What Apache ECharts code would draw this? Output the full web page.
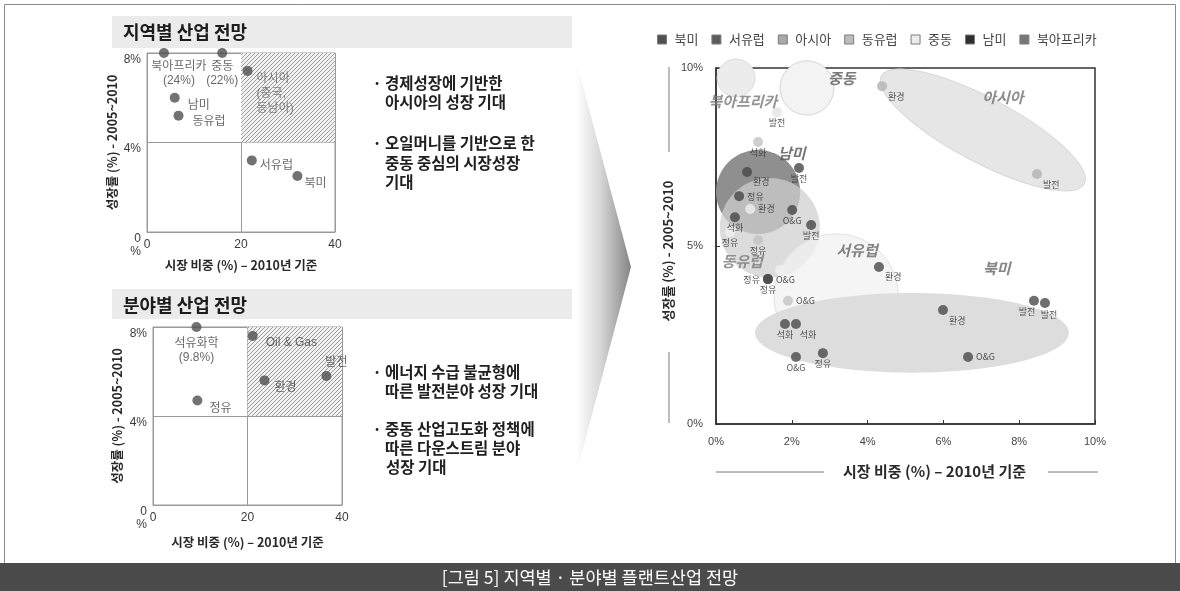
<!DOCTYPE html>
<html>
<head>
<meta charset="utf-8">
<script src="https://cdn.jsdelivr.net/npm/echarts@6/dist/echarts.min.js"></script>
<style>
  html, body { margin: 0; padding: 0; background: #ffffff; }
  #chart { width: 1180px; height: 591px; }
</style>
</head>
<body>
<div id="chart"></div>
<script>
// ---------------- data ----------------
// 지역별 산업 전망 : 시장 비중 (%) / 성장률 (%)
const regionNames  = ['북아프리카', '중동', '아시아', '남미', '동유럽', '서유럽', '북미'];
const regionNotes  = ['', '', '(중국,\n동남아)', '', '', '', ''];
const regionShare  = [3.6, 16.0, 21.4, 5.9, 6.7, 22.3, 32.0];
const regionGrowth = [24, 22, 7.2, 6.0, 5.2, 3.2, 2.5];

// 분야별 산업 전망
const sectorNames  = ['석유화학', 'Oil & Gas', '발전', '환경', '정유'];
const sectorShare  = [9.2, 21.1, 36.7, 23.6, 9.4];
const sectorGrowth = [9.8, 7.6, 5.8, 5.6, 4.7];

// axis ticks
const smallShareTicks  = [0, 20, 40];
const smallGrowthTicks = [0, 4, 8];
const shareTicks  = [0, 2, 4, 6, 8, 10];
const growthTicks = [0, 5, 10];

// 지역 × 분야 상세 : regional bubbles (centre and half-spread, %)
const legendOrder   = ['북미', '서유럽', '아시아', '동유럽', '중동', '남미', '북아프리카'];
const bubbleRegions = ['북아프리카', '중동', '아시아', '남미', '동유럽', '서유럽', '북미'];
const bubbleShare        = [0.53, 2.40, 7.04, 1.11, 1.42, 3.17, 5.17];
const bubbleGrowth       = [9.72, 9.44, 8.26, 6.52, 5.51, 3.60, 2.56];
const bubbleShareSpread  = [0.50, 0.71, 3.03, 1.11, 1.32, 1.64, 4.14];
const bubbleGrowthSpread = [0.53, 0.76, 0.90, 1.18, 1.40, 1.74, 1.12];
const bubbleTilt         = [0, 0, -28, 0, 0, 0, 0];

// sector points inside the regions
const dotShare  = [4.38, 8.47, 1.61, 1.11, 0.82, 2.19, 0.61, 0.90, 0.50, 2.01, 2.51, 0.37, 1.11, 1.69, 1.37, 1.37, 1.37, 4.30, 1.90, 1.82, 2.11, 2.11, 2.82, 5.99, 8.39, 8.68, 6.65];
const dotGrowth = [9.49, 7.02, 8.76, 7.92, 7.08, 7.19, 6.40, 6.04, 5.81, 6.01, 5.59, 5.39, 5.17, 4.33, 4.07, 4.07, 4.07, 4.41, 3.46, 2.81, 2.81, 1.88, 1.99, 3.20, 3.46, 3.40, 1.88];
const dotSector = ['환경', '발전', '발전', '석화', '환경', '발전', '정유', '환경', '석화', 'O&G', '발전', '정유', '정유', '', '정유', 'O&G', '정유', '환경', 'O&G', '석화', '석화', 'O&G', '정유', '환경', '발전', '발전', 'O&G'];
const dotRegion = ['아시아', '아시아', '북아프리카', '동유럽', '남미', '남미', '남미', '중동', '남미', '남미', '남미', '중동', '동유럽', '중동', '동유럽', '서유럽', '서유럽', '서유럽', '동유럽', '서유럽', '북미', '서유럽', '북미', '북미', '북미', '북미', '북미'];

// ---------------- layout & styles ----------------
const FONT = '"Liberation Sans", "Noto Sans CJK KR", sans-serif';
const KFONT = '"Noto Sans CJK KR", "Liberation Sans", sans-serif';

const dotPlace = ['rb', 'rb', 'b', 'b', 'rb', 'b', 'r', 'r', 'b', 'b', 'b', 'b', 'b', '', 'l', 'r', 'b', 'rb', 'r', 'b', 'bR', 'b', 'b', 'rb', 'bl', 'br', 'r'];
const PLACE = {
  b:  { position: 'bottom', distance: 1 },
  bl: { position: 'bottom', distance: 1, offset: [-7, 0] },
  br: { position: 'bottom', distance: 2, offset: [4, 0] },
  bR: { position: 'bottom', distance: 1, offset: [12, 0] },
  r:  { position: 'right', distance: 3 },
  l:  { position: 'left', distance: 3 },
  rb: { position: 'right', distance: 1, offset: [0, 10] }
};

const regionLabelPlace = [
  { position: 'bottom', distance: 2, offset: [15, 0] },
  { position: 'bottom', distance: 2 },
  { position: 'right', distance: 4, offset: [0, 23], lineHeight: 15, color: '#666' },
  { position: 'right', distance: 8, offset: [0, 8] },
  { position: 'right', distance: 9, offset: [0, 6] },
  { position: 'right', distance: 3, offset: [0, 5] },
  { position: 'right', distance: 2, offset: [0, 8] }
];
const sectorLabelPlace = [
  { position: 'bottom', distance: 5 },
  { position: 'right', distance: 8, offset: [0, 7] },
  { position: 'top', distance: 1, offset: [10, 0] },
  { position: 'right', distance: 5, offset: [0, 7] },
  { position: 'right', distance: 7, offset: [0, 8] }
];

const LEGEND_COLOR = {
  '북미': '#505050', '서유럽': '#5c5c5c', '아시아': '#a9a9a9', '동유럽': '#bdbdbd',
  '중동': '#ececec', '남미': '#2f2f2f', '북아프리카': '#787878'
};
const BUBBLE_STYLE = {
  '북아프리카': { fill: '#ececec', stroke: '#dcdcdc', lineWidth: 1 },
  '중동':       { fill: '#f3f3f3', stroke: '#d6d6d6', lineWidth: 1 },
  '아시아':     { fill: '#e6e6e6', stroke: '#d8d8d8', lineWidth: 1 },
  '남미':       { fill: '#8f8f8f' },
  '동유럽':     { fill: 'rgba(206,206,206,0.72)' },
  '서유럽':     { fill: 'rgba(241,241,241,0.75)', stroke: '#e2e2e2', lineWidth: 1 },
  '북미':       { fill: '#dddddd' }
};
const DOT_COLOR = {
  '남미': '#464646', '서유럽': '#4a4a4a', '북미': '#4a4a4a', '아시아': '#b3b3b3',
  '동유럽': '#c3c3c3', '중동': '#f0f0f0', '북아프리카': '#e3e3e3'
};
// where each region's name is written (share %, growth %)
const TITLE_AT = {
  '북아프리카': [0.71, 9.07], '중동': [3.32, 9.72], '아시아': [7.57, 9.18], '남미': [2.00, 7.61],
  '동유럽': [0.69, 4.58], '서유럽': [3.72, 4.89], '북미': [7.41, 4.38]
};
const TITLE_COLOR = {
  '북아프리카': '#7b7b7b', '중동': '#585858', '아시아': '#707070', '남미': '#555555',
  '동유럽': '#7a7a7a', '서유럽': '#666666', '북미': '#666666'
};

// diagonal hatching for the favourable quadrant
function hatchCanvas() {
  const c = document.createElement('canvas');
  c.width = 4; c.height = 4;
  const g = c.getContext('2d');
  g.fillStyle = '#f1f1f1';
  g.fillRect(0, 0, 4, 4);
  g.strokeStyle = '#9c9c9c';
  g.lineWidth = 1;
  g.beginPath();
  g.moveTo(0, 4); g.lineTo(4, 0);
  g.moveTo(-1, 1); g.lineTo(1, -1);
  g.moveTo(3, 5); g.lineTo(5, 3);
  g.stroke();
  return c;
}
const HATCH = { image: hatchCanvas(), repeat: 'repeat' };

const axisFrom = t => ({ min: t[0], max: t[t.length - 1], interval: t[1] - t[0] });

function smallX(gridIndex, nameGap) {
  return Object.assign({
    gridIndex, type: 'value',
    axisLine: { show: true, lineStyle: { color: '#9a9a9a' } },
    axisTick: { show: false },
    splitLine: { show: true, lineStyle: { color: '#9a9a9a', width: 1 } },
    axisLabel: { color: '#3a3a3a', fontSize: 12, fontFamily: FONT, margin: 7 },
    name: '시장 비중 (%) – 2010년 기준', nameLocation: 'middle', nameGap,
    nameTextStyle: { color: '#2a2a2a', fontSize: 12.5, fontWeight: 'bold', fontFamily: KFONT }
  }, axisFrom(smallShareTicks));
}
function smallY(gridIndex, nameGap) {
  return Object.assign({
    gridIndex, type: 'value',
    axisLine: { show: true, lineStyle: { color: '#9a9a9a' } },
    axisTick: { show: false },
    splitLine: { show: true, lineStyle: { color: '#9a9a9a', width: 1 } },
    axisLabel: {
      color: '#3a3a3a', fontSize: 12, fontFamily: FONT, margin: 6,
      verticalAlign: 'top', lineHeight: 13,
      formatter: v => (v === 0 ? '0\n%' : v + '%')
    },
    name: '성장률 (%) - 2005~2010', nameLocation: 'middle', nameRotate: 90, nameGap,
    nameTextStyle: { color: '#2a2a2a', fontSize: 12.5, fontWeight: 'bold', fontFamily: KFONT }
  }, axisFrom(smallGrowthTicks));
}

function smallDots(gridIndex, names, share, growth, notes, places) {
  const yMax = smallGrowthTicks[smallGrowthTicks.length - 1];
  return {
    type: 'scatter', name: 'panel' + gridIndex,
    xAxisIndex: gridIndex, yAxisIndex: gridIndex,
    symbolSize: 10, clip: false, z: 4,
    itemStyle: { color: '#4f4f4f' },
    label: { show: true, color: '#444', fontSize: 12, fontFamily: FONT, lineHeight: 14 },
    data: names.map((n, i) => ({
      name: n,
      value: [share[i], Math.min(growth[i], yMax)],
      label: Object.assign({
        formatter: [n, growth[i] > yMax ? '(' + growth[i] + '%)' : '', notes ? notes[i] : '']
          .filter(Boolean).join('\n')
      }, places[i])
    })),
    markArea: {
      silent: true,
      itemStyle: { color: HATCH },
      data: [[
        { coord: [smallShareTicks[1], smallGrowthTicks[1]] },
        { coord: [smallShareTicks[2], smallGrowthTicks[2]] }
      ]]
    }
  };
}

// ---------------- option ----------------
const bubbleSeries = bubbleRegions.map((n, i) => ({
  type: 'custom', name: n, xAxisIndex: 2, yAxisIndex: 2, silent: true, z: 2,
  itemStyle: { color: LEGEND_COLOR[n] },
  data: [[bubbleShare[i], bubbleGrowth[i], bubbleShareSpread[i], bubbleGrowthSpread[i], bubbleTilt[i]]],
  renderItem: (params, api) => {
    const c = api.coord([api.value(0), api.value(1)]);
    const s = api.size([api.value(2), api.value(3)]);
    return {
      type: 'ellipse',
      x: c[0], y: c[1],
      rotation: api.value(4) * Math.PI / 180,
      shape: { cx: 0, cy: 0, rx: s[0], ry: s[1] },
      style: BUBBLE_STYLE[n]
    };
  }
}));

const option = {
  animation: false,
  backgroundColor: '#ffffff',
  textStyle: { fontFamily: FONT },
  grid: [
    { left: 147, top: 53, width: 188, height: 179, show: true, borderColor: '#9a9a9a', borderWidth: 1 },
    { left: 153, top: 327, width: 189, height: 178, show: true, borderColor: '#9a9a9a', borderWidth: 1 },
    { left: 716, top: 68, width: 379, height: 356, show: true, borderColor: '#333', borderWidth: 1.5 }
  ],
  legend: {
    left: 657, top: 33, padding: 0,
    icon: 'rect', itemWidth: 9, itemHeight: 9, itemGap: 13,
    textStyle: { fontSize: 13, color: '#444', fontFamily: KFONT, padding: [0, 0, 0, 3] },
    data: legendOrder.map(n => ({
      name: n,
      itemStyle: { color: LEGEND_COLOR[n], borderColor: '#7a7a7a', borderWidth: 1 }
    }))
  },
  xAxis: [
    smallX(0, 27),
    smallX(1, 31),
    Object.assign({
      gridIndex: 2, type: 'value',
      axisLine: { show: true, lineStyle: { color: '#333', width: 1.5 } },
      axisTick: { show: true, inside: true, length: 4, lineStyle: { color: '#333' } },
      splitLine: { show: false },
      axisLabel: { color: '#444', fontSize: 11, fontFamily: FONT, margin: 12, formatter: '{value}%' },
      name: '시장 비중 (%) – 2010년 기준', nameLocation: 'middle', nameGap: 40,
      nameTextStyle: { color: '#2a2a2a', fontSize: 15, fontWeight: 'bold', fontFamily: KFONT, padding: [0, 0, 0, 58] }
    }, axisFrom(shareTicks))
  ],
  yAxis: [
    smallY(0, 28),
    smallY(1, 29),
    Object.assign({
      gridIndex: 2, type: 'value',
      axisLine: { show: true, lineStyle: { color: '#333', width: 1.5 } },
      axisTick: { show: true, inside: true, length: 4, lineStyle: { color: '#333' } },
      splitLine: { show: false },
      axisLabel: { color: '#444', fontSize: 11, fontFamily: FONT, margin: 13, formatter: '{value}%' },
      name: '성장률 (%) - 2005~2010', nameLocation: 'middle', nameRotate: 90, nameGap: 41,
      nameTextStyle: { color: '#2a2a2a', fontSize: 13, fontWeight: 'bold', fontFamily: KFONT, padding: [0, 10, 0, 0] }
    }, axisFrom(growthTicks))
  ],
  series: [
    smallDots(0, regionNames, regionShare, regionGrowth, regionNotes, regionLabelPlace),
    smallDots(1, sectorNames, sectorShare, sectorGrowth, null, sectorLabelPlace),
    ...bubbleSeries,
    {
      type: 'scatter', name: 'sectorDots', xAxisIndex: 2, yAxisIndex: 2,
      symbolSize: 10, clip: false, z: 6,
      label: { formatter: '{b}', fontSize: 9, color: '#2a2a2a', fontFamily: KFONT },
      data: dotShare.map((x, i) => ({
        name: dotSector[i],
        value: [x, dotGrowth[i]],
        itemStyle: { color: DOT_COLOR[dotRegion[i]] },
        label: Object.assign({ show: dotSector[i] !== '' }, PLACE[dotPlace[i]] || {})
      }))
    },
    {
      type: 'scatter', name: 'regionTitles', xAxisIndex: 2, yAxisIndex: 2,
      symbolSize: 1, clip: false, silent: true, z: 7,
      itemStyle: { color: 'rgba(0,0,0,0)' },
      label: {
        show: true, position: 'inside', formatter: '{b}',
        fontSize: 15, fontWeight: 'bold', fontStyle: 'italic', fontFamily: KFONT
      },
      data: bubbleRegions.map(n => ({
        name: n, value: TITLE_AT[n], label: { color: TITLE_COLOR[n] }
      }))
    }
  ],
  graphic: [
    // outer frame
    { type: 'rect', silent: true, z: -10, shape: { x: 4.5, y: 4.5, width: 1171, height: 559 },
      style: { fill: 'none', stroke: '#8c8c8c', lineWidth: 1 } },
    // panel headers
    { type: 'rect', silent: true, shape: { x: 112, y: 16, width: 460, height: 32 }, style: { fill: '#ebebeb' } },
    { type: 'text', silent: true, x: 123, y: 32,
      style: { text: '지역별 산업 전망', fill: '#1c1c1c', fontSize: 18, fontWeight: 'bold', fontFamily: KFONT, verticalAlign: 'middle' } },
    { type: 'rect', silent: true, shape: { x: 112, y: 289, width: 460, height: 30 }, style: { fill: '#ebebeb' } },
    { type: 'text', silent: true, x: 123, y: 305,
      style: { text: '분야별 산업 전망', fill: '#1c1c1c', fontSize: 18, fontWeight: 'bold', fontFamily: KFONT, verticalAlign: 'middle' } },
    // commentary bullets
    ...[
      ['·', 377, 83, 'center'], ['경제성장에 기반한', 385, 83], ['아시아의 성장 기대', 385, 102],
      ['·', 377, 143, 'center'], ['오일머니를 기반으로 한', 385, 143], ['중동 중심의 시장성장', 385, 163], ['기대', 385, 182],
      ['·', 377, 372, 'center'], ['에너지 수급 불균형에', 385, 372], ['따른 발전분야 성장 기대', 385, 391],
      ['·', 377, 429, 'center'], ['중동 산업고도화 정책에', 385, 429], ['따른 다운스트림 분야', 385, 448], ['성장 기대', 386, 467]
    ].map(([t, x, y, a]) => ({
      type: 'text', silent: true, x, y,
      style: { text: t, fill: '#202020', fontSize: 15.5, fontWeight: 'bold', fontFamily: KFONT,
        align: a || 'left', verticalAlign: 'middle' }
    })),
    // transition chevron
    { type: 'polygon', silent: true, z: -5,
      shape: { points: [[576, 60], [631, 267], [576, 475]] },
      style: { fill: new echarts.graphic.LinearGradient(0, 0, 1, 0, [
        { offset: 0, color: '#ffffff' }, { offset: 0.45, color: '#d6d6d6' }, { offset: 1, color: '#858585' }
      ]) } },
    // rules flanking the axis titles of the detail chart
    { type: 'line', silent: true, shape: { x1: 669, y1: 67, x2: 669, y2: 152 }, style: { stroke: '#7a7a7a', lineWidth: 1 } },
    { type: 'line', silent: true, shape: { x1: 669, y1: 352, x2: 669, y2: 423 }, style: { stroke: '#7a7a7a', lineWidth: 1 } },
    { type: 'line', silent: true, shape: { x1: 716, y1: 472, x2: 824, y2: 472 }, style: { stroke: '#7a7a7a', lineWidth: 1 } },
    { type: 'line', silent: true, shape: { x1: 1048, y1: 472, x2: 1098, y2: 472 }, style: { stroke: '#7a7a7a', lineWidth: 1 } },
    // caption bar
    { type: 'rect', silent: true, shape: { x: 0, y: 563, width: 1180, height: 28 }, style: { fill: '#4b4b4b' } },
    { type: 'text', silent: true, x: 590, y: 577,
      style: { text: '[그림 5] 지역별 · 분야별 플랜트산업 전망', fill: '#ffffff', fontSize: 17.5, fontFamily: KFONT,
        align: 'center', verticalAlign: 'middle' } }
  ]
};

const chart = echarts.init(document.getElementById('chart'), null, { renderer: 'canvas' });
chart.setOption(option);
</script>
</body>
</html>
